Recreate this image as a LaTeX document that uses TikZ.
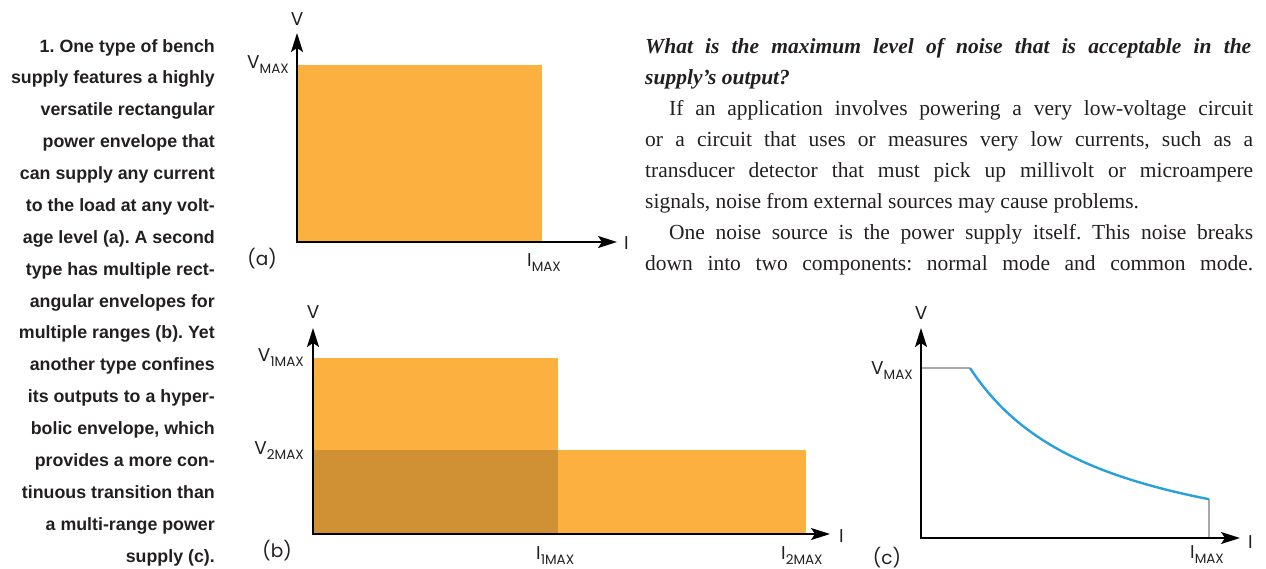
\documentclass[tikz,border=0pt]{standalone}
\usepackage{fontspec}
\setmainfont{Liberation Serif}
\newfontfamily\capfont{Liberation Sans}
\newfontfamily\axfont{Poppins}
\usetikzlibrary{arrows.meta}
\definecolor{envorange}{RGB}{251,176,64}
\definecolor{envdark}{RGB}{207,145,51}
\definecolor{curveblue}{RGB}{41,160,220}
\definecolor{limgray}{RGB}{167,169,172}
\definecolor{ink}{RGB}{35,31,32}
\frenchspacing
\newcommand{\axl}[2]{{\axfont\fontsize{18.5}{18}\selectfont #1\raisebox{-5pt}{\fontsize{13.5}{13}\selectfont #2}}}
\newcommand{\jl}[2]{\makebox[#1][s]{#2}}
\begin{document}
\begin{tikzpicture}[x=1pt,y=-1pt,
  axisline/.style={line width=1.8pt, line join=miter, draw=black,
    {Stealth[length=19pt,width=12pt,inset=4pt]}-{Stealth[length=19pt,width=12pt,inset=4pt]}},
  axlab/.style={inner sep=0pt, text=ink, font=\axfont\fontsize{18.5}{18}\selectfont},
  captext/.style={inner sep=0pt, anchor=base east, text=ink, font=\capfont\bfseries\fontsize{17.8}{20}\selectfont},
  bodytext/.style={inner sep=0pt, anchor=base west, text=ink, font=\fontsize{21.5}{24}\selectfont},
  limline/.style={draw=limgray, line width=2pt},
  envcurve/.style={draw=curveblue, line width=2.4pt}]
\useasboundingbox (0,0) rectangle (1266,568);

% ---------- caption ----------
\node[captext] (c1) at (215,52) {1. One type of bench};
\node[captext] (c2) at (215,83.9) {supply features a highly};
\node[captext] (c3) at (215,115.8) {versatile rectangular};
\node[captext] (c4) at (215,147.6) {power envelope that};
\node[captext] (c5) at (215,179.5) {can supply any current};
\node[captext] (c6) at (215,211.4) {to the load at any volt-};
\node[captext] (c7) at (215,243.3) {age level (a). A second};
\node[captext] (c8) at (215,275.1) {type has multiple rect-};
\node[captext] (c9) at (215,307) {angular envelopes for};
\node[captext] (c10) at (215,338.9) {multiple ranges (b). Yet};
\node[captext] (c11) at (215,370.8) {another type confines};
\node[captext] (c12) at (215,402.6) {its outputs to a hyper-};
\node[captext] (c13) at (215,434.5) {bolic envelope, which};
\node[captext] (c14) at (215,466.4) {provides a more con-};
\node[captext] (c15) at (215,498.3) {tinuous transition than};
\node[captext] (c16) at (215,530.1) {a multi-range power};
\node[captext] (c17) at (215,562) {supply (c).};

% ---------- panel (a) ----------
\coordinate (oa) at (297,242);
\coordinate (ya) at (297,33);
\coordinate (xa) at (617,242);
\fill[envorange] (297,65) rectangle (542,242);
\draw[axisline] (ya) -- (oa) -- (xa);
\node[axlab, anchor=base] (va) at (297,25) {V};
\node[axlab, anchor=base east] (vmaxa) at (289,68) {\axl{V}{MAX}};
\node[axlab, anchor=base] (la) at (262,265) {(a)};
\node[axlab, anchor=base west] (imaxa) at (527,266) {\axl{I}{MAX}};
\node[axlab, anchor=base west] (ia) at (624,249) {I};

% ---------- panel (b) ----------
\coordinate (ob) at (313,534);
\coordinate (yb) at (313,328);
\coordinate (xb) at (830,534);
\fill[envorange] (313,358) rectangle (558,534);
\fill[envorange] (558,450) rectangle (806,534);
\fill[envdark] (313,450) rectangle (558,534);
\draw[axisline] (yb) -- (ob) -- (xb);
\node[axlab, anchor=base] (vb) at (313,318) {V};
\node[axlab, anchor=base east] (v1b) at (304,361) {\axl{V}{1MAX}};
\node[axlab, anchor=base east] (v2b) at (304,454) {\axl{V}{2MAX}};
\node[axlab, anchor=base] (lb) at (277,557) {(b)};
\node[axlab, anchor=base west] (i1b) at (536,559) {\axl{I}{1MAX}};
\node[axlab, anchor=base west] (i2b) at (781,559) {\axl{I}{2MAX}};
\node[axlab, anchor=base west] (ib) at (839,542) {I};

% ---------- panel (c) ----------
\coordinate (oc) at (921,538);
\coordinate (yc) at (921,328);
\coordinate (xc) at (1240,538);
\coordinate (k0) at (921,368);
\coordinate (k1) at (970,368);
\coordinate (k2) at (1209,499);
\coordinate (k3) at (1209,538);
\draw[limline] (k0) -- (k1);
\draw[limline] (k2) -- (k3);
\draw[envcurve] plot[domain=49:288,samples=90] ({921+\x},{538-(274.09/(\x+84.9)*100-34.7)});
\draw[axisline] (yc) -- (oc) -- (xc);
\node[axlab, anchor=base] (vc) at (921,319) {V};
\node[axlab, anchor=base east] (vmaxc) at (913,374) {\axl{V}{MAX}};
\node[axlab, anchor=base] (lc) at (887,564) {(c)};
\node[axlab, anchor=base west] (imaxc) at (1190,558) {\axl{I}{MAX}};
\node[axlab, anchor=base west] (ic) at (1248,548) {I};

% ---------- body text ----------
\node[bodytext] (t1) at (645,53) {\jl{606pt}{\bfseries\itshape What is the maximum level of noise that is acceptable in the}};
\node[bodytext] (t2) at (645,84) {\bfseries\itshape supply’s output?};
\node[bodytext] (t3) at (669,115) {\jl{584pt}{If an application involves powering a very low-voltage circuit}};
\node[bodytext] (t4) at (645,146) {\jl{608pt}{or a circuit that uses or measures very low currents, such as a}};
\node[bodytext] (t5) at (645,177) {\jl{608pt}{transducer detector that must pick up millivolt or microampere}};
\node[bodytext] (t6) at (645,208) {signals, noise from external sources may cause problems.};
\node[bodytext] (t7) at (669,239) {\jl{584pt}{One noise source is the power supply itself. This noise breaks}};
\node[bodytext] (t8) at (645,270) {\jl{608pt}{down into two components: normal mode and common mode.}};
\end{tikzpicture}
\end{document}
